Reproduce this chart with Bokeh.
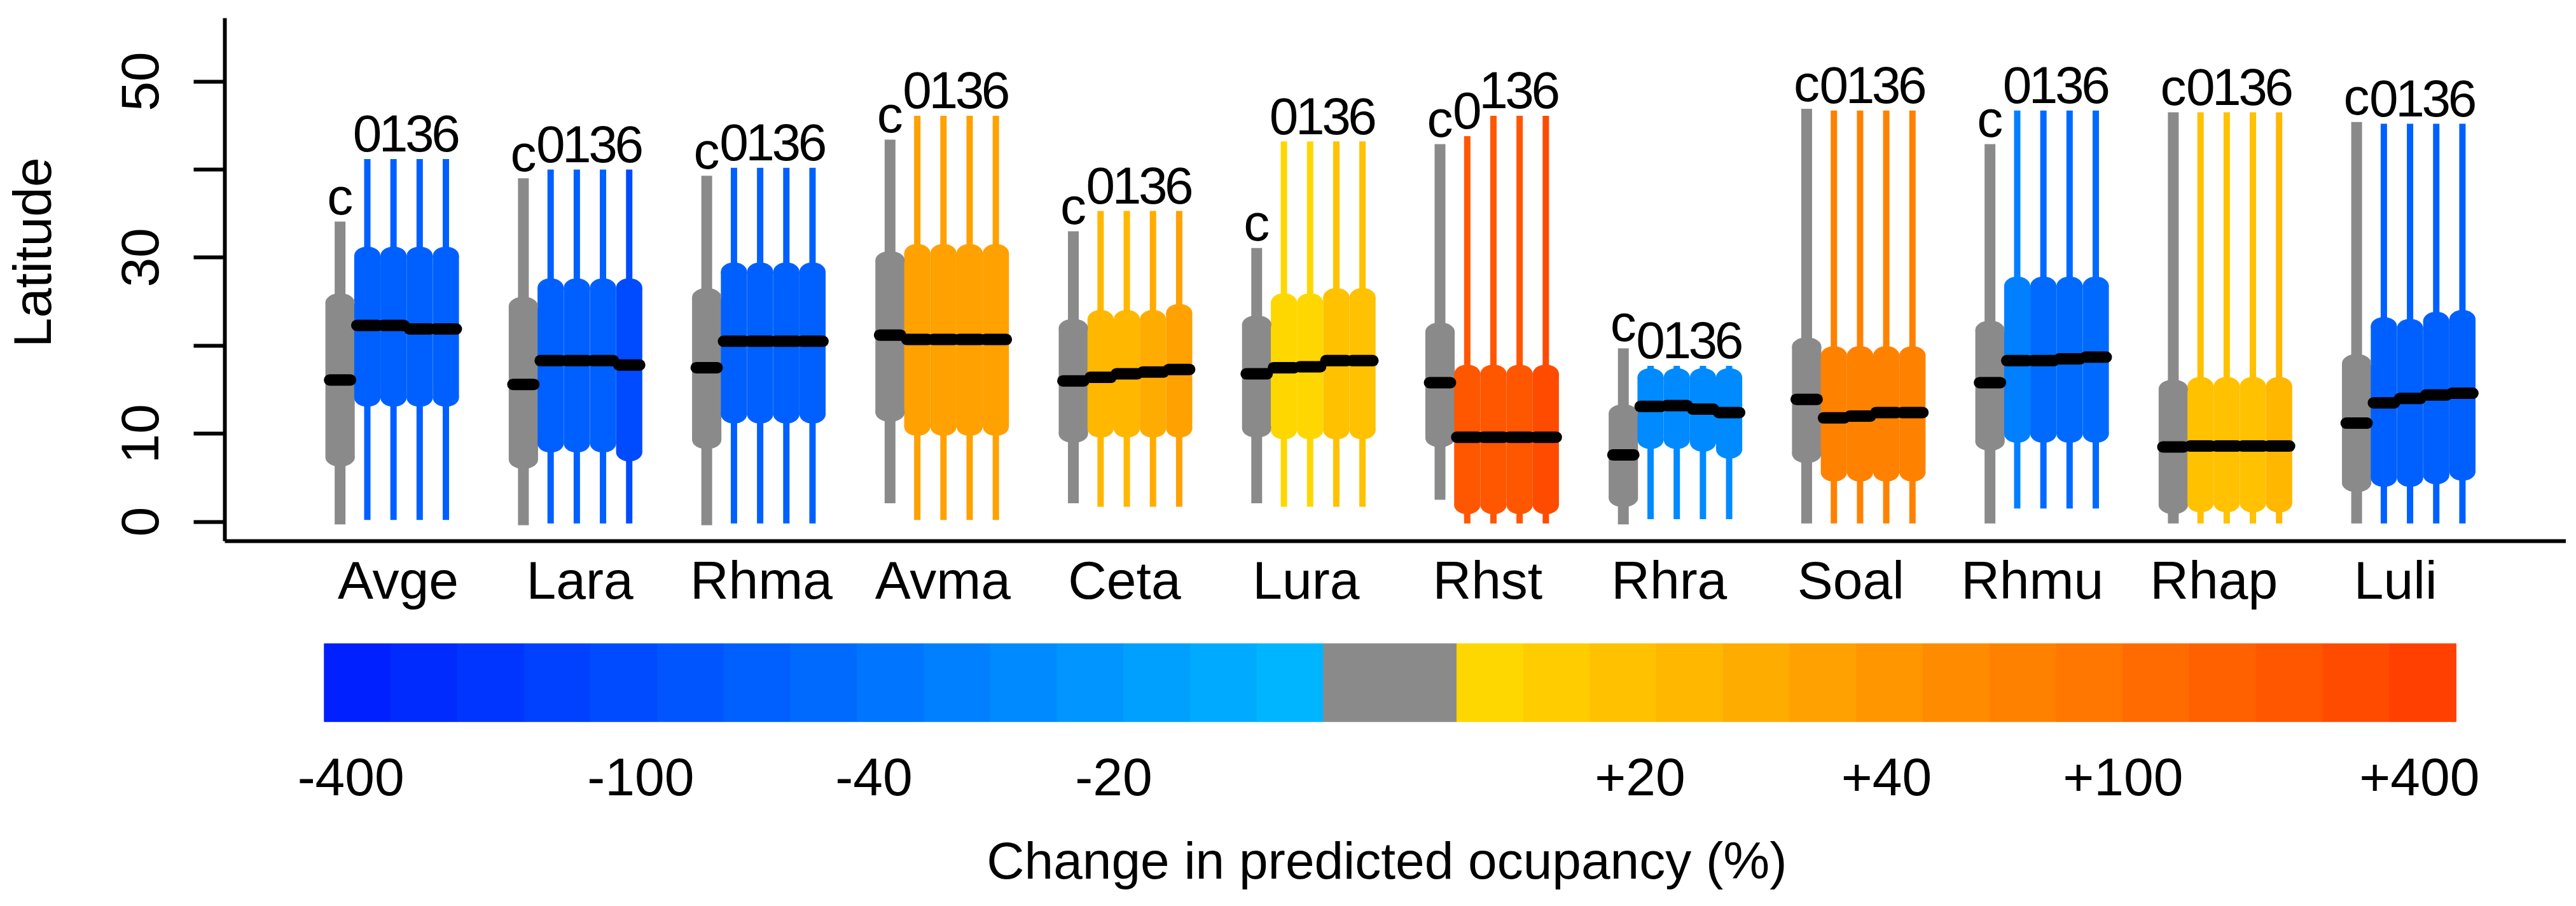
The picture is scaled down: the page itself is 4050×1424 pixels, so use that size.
import math
from bokeh.plotting import figure
from bokeh.models import Range1d, FixedTicker, ColumnDataSource
from bokeh.layouts import column, row
from bokeh.embed import file_html
from bokeh.resources import INLINE
from bokeh.core.properties import value

# ---------------- data ----------------
species = ["Avge", "Lara", "Rhma", "Avma", "Ceta", "Lura",
           "Rhst", "Rhra", "Soal", "Rhmu", "Rhap", "Luli"]
scenarios = ["c", "0", "1", "3", "6"]

whisker_low = [
    [-0.3, 0.2, 0.2, 0.2, 0.2],
    [-0.4, -0.2, -0.2, -0.2, -0.2],
    [-0.4, -0.2, -0.2, -0.2, -0.2],
    [2.1, 0.2, 0.2, 0.2, 0.2],
    [2.1, 1.7, 1.7, 1.7, 1.7],
    [2.1, 1.7, 1.7, 1.7, 1.7],
    [2.5, -0.2, -0.2, -0.2, -0.2],
    [-0.3, 0.3, 0.3, 0.3, 0.3],
    [-0.2, -0.2, -0.2, -0.2, -0.2],
    [-0.2, 1.5, 1.5, 1.5, 1.5],
    [-0.2, -0.2, -0.2, -0.2, -0.2],
    [-0.2, -0.2, -0.2, -0.2, -0.2],
]
box_low = [
    [7.3, 14.1, 14.1, 14.1, 14.1],
    [7.05, 8.9, 8.9, 8.9, 7.9],
    [9.3, 12.2, 12.2, 12.2, 12.2],
    [12.4, 10.8, 10.8, 10.8, 10.8],
    [10.0, 10.6, 10.6, 10.6, 10.6],
    [10.6, 10.4, 10.4, 10.4, 10.4],
    [9.5, 1.9, 1.9, 1.9, 1.9],
    [2.7, 9.3, 9.3, 9.0, 8.2],
    [7.7, 5.6, 5.6, 5.6, 5.6],
    [9.1, 10.0, 10.0, 10.0, 10.0],
    [1.9, 2.1, 2.1, 2.1, 2.1],
    [4.4, 5.0, 5.0, 5.3, 5.7],
]
medians = [
    [16.1, 22.3, 22.3, 21.9, 21.9],
    [15.6, 18.3, 18.3, 18.3, 17.8],
    [17.5, 20.5, 20.5, 20.5, 20.5],
    [21.2, 20.7, 20.7, 20.7, 20.7],
    [16.0, 16.4, 16.8, 17.0, 17.3],
    [16.8, 17.5, 17.6, 18.3, 18.3],
    [15.8, 9.6, 9.6, 9.6, 9.6],
    [7.6, 13.1, 13.2, 12.8, 12.4],
    [13.9, 11.8, 12.0, 12.4, 12.4],
    [15.8, 18.3, 18.3, 18.5, 18.7],
    [8.5, 8.6, 8.6, 8.6, 8.6],
    [11.2, 13.5, 14.0, 14.4, 14.6],
]
box_high = [
    [24.9, 30.2, 30.2, 30.2, 30.2],
    [24.5, 26.6, 26.6, 26.6, 26.6],
    [25.5, 28.4, 28.4, 28.4, 28.4],
    [29.7, 30.5, 30.5, 30.5, 30.5],
    [22.0, 23.0, 23.0, 23.0, 23.7],
    [22.4, 24.9, 24.9, 25.5, 25.5],
    [21.6, 16.8, 16.8, 16.8, 16.8],
    [12.3, 16.4, 16.4, 16.4, 16.4],
    [19.9, 18.9, 18.9, 18.9, 18.9],
    [21.8, 26.8, 26.8, 26.8, 26.8],
    [15.1, 15.4, 15.4, 15.4, 15.4],
    [18.0, 22.2, 22.0, 22.8, 23.0],
]
whisker_high = [
    [34.1, 41.2, 41.2, 41.2, 41.2],
    [39.0, 40.0, 40.0, 40.0, 40.0],
    [39.3, 40.2, 40.2, 40.2, 40.2],
    [43.4, 46.1, 46.1, 46.1, 46.1],
    [33.0, 35.3, 35.3, 35.3, 35.3],
    [31.1, 43.2, 43.2, 43.2, 43.2],
    [42.9, 43.8, 46.1, 46.1, 46.1],
    [19.7, 17.7, 17.7, 17.7, 17.7],
    [46.9, 46.7, 46.7, 46.7, 46.7],
    [42.9, 46.7, 46.7, 46.7, 46.7],
    [46.5, 46.5, 46.5, 46.5, 46.5],
    [45.4, 45.2, 45.2, 45.2, 45.2],
]
# change-in-occupancy class (index on the 32-step colour scale), None = current ("c")
change_class = [
    [None, 6, 6, 6, 6],
    [None, 6, 6, 6, 4],
    [None, 6, 6, 6, 6],
    [None, 22, 22, 22, 22],
    [None, 20, 20, 21, 22],
    [None, 17, 17, 19, 19],
    [None, 29, 29, 29, 30],
    [None, 10, 10, 10, 10],
    [None, 25, 25, 25, 25],
    [None, 9, 7, 7, 7],
    [None, 19, 19, 19, 20],
    [None, 6, 6, 6, 6],
]

colorbar_tick_pos = [0.4, 4.75, 8.25, 11.85, 19.75, 23.45, 27.0, 31.45]
colorbar_tick_labels = ["-400", "-100", "-40", "-20", "+20", "+40", "+100", "+400"]
colorbar_title = "Change in predicted ocupancy (%)"
y_ticks = [0, 10, 20, 30, 40, 50]
y_tick_labels = ["0", "10", "", "30", "", "50"]
y_title = "Latitude"

# ---------------- styling ----------------
FONT = "Liberation Sans"
GRAY = "#8A8A8A"


def ramp(c0, c1, n):
    out = []
    for k in range(n):
        t = k / (n - 1)
        rgb = [round(a + (b - a) * t) for a, b in zip(c0, c1)]
        out.append("#%02X%02X%02X" % tuple(rgb))
    return out


palette = ramp((0, 32, 255), (0, 181, 255), 15) + [GRAY, GRAY] + ramp((255, 215, 0), (255, 64, 0), 15)

GROUP_STEP = 7.0
LABEL_GAP = 2.9   # distance (y units) from whisker top to label anchor
rows = dict(x=[], wlo=[], whi=[], qlo=[], qhi=[], med=[], color=[], bw=[], ww=[],
            lbl=[], ly=[], x0=[], x1=[], qmid=[], qh=[])
for i, sp in enumerate(species):
    for j, sc in enumerate(scenarios):
        xc = GROUP_STEP * i + (0.0 if j == 0 else j + 0.04)
        rows["x"].append(xc)
        rows["wlo"].append(whisker_low[i][j])
        rows["whi"].append(whisker_high[i][j])
        rows["qlo"].append(box_low[i][j])
        rows["qhi"].append(box_high[i][j])
        rows["qmid"].append((box_low[i][j] + box_high[i][j]) / 2)
        rows["qh"].append(box_high[i][j] - box_low[i][j])
        rows["med"].append(medians[i][j])
        cc = change_class[i][j]
        rows["color"].append(GRAY if cc is None else palette[cc])
        rows["bw"].append(1.12 if j == 0 else 1.0)
        rows["ww"].append(17 if j == 0 else 10)
        rows["lbl"].append(sc)
        rows["ly"].append(whisker_high[i][j] + LABEL_GAP)
        rows["x0"].append(xc - 0.40)
        rows["x1"].append(xc + 0.40)
src = ColumnDataSource(rows)

W = 4034
H1 = 980
W0 = 100          # strip holding the rotated y title

# ---------------- y title strip ----------------
lt = figure(width=W0, height=H1, output_backend="svg", toolbar_location=None,
            x_range=Range1d(0, W0), y_range=Range1d(H1, 0),
            min_border_left=0, min_border_right=0, min_border_top=0, min_border_bottom=0)
lt.axis.visible = False
lt.grid.visible = False
lt.outline_line_color = None
lt.text(x=[50], y=[439], text=[y_title], angle=math.pi / 2,
        text_font=value(FONT), text_font_size="84px", text_align="center",
        text_baseline="alphabetic", text_color="black")

# ---------------- main panel ----------------
p = figure(width=W - W0, height=H1, output_backend="svg", toolbar_location=None,
           x_range=Range1d(-4.40, 85.0), y_range=Range1d(-2.2, 57.2),
           min_border_left=353 - W0, min_border_right=0, min_border_top=28, min_border_bottom=130)
p.outline_line_color = None
p.grid.visible = False
p.background_fill_color = "white"
p.border_fill_color = "white"

p.segment(x0="x", y0="wlo", x1="x", y1="whi", line_width="ww", line_color="color",
          line_cap="butt", source=src)
p.rect(x="x", y="qmid", width="bw", height="qh", fill_color="color", line_color=None, source=src)
p.ellipse(x="x", y="qlo", width="bw", height=2.1, fill_color="color", line_color=None, source=src)
p.ellipse(x="x", y="qhi", width="bw", height=2.1, fill_color="color", line_color=None, source=src)
p.segment(x0="x0", y0="med", x1="x1", y1="med", line_width=18, line_color="black",
          line_cap="round", source=src)
p.text(x="x", y="ly", text="lbl", text_font=value(FONT), text_font_size="82px",
       text_align="center", text_baseline="alphabetic", text_color="black", source=src)

# y axis
p.yaxis.ticker = FixedTicker(ticks=y_ticks)
p.yaxis.major_label_overrides = dict(zip(y_ticks, y_tick_labels))
p.yaxis.major_label_orientation = "vertical"
p.yaxis.major_label_text_font = FONT
p.yaxis.major_label_text_font_size = "84px"
p.yaxis.major_label_text_color = "black"
p.yaxis.major_label_standoff = 55
p.yaxis.major_tick_out = 49
p.yaxis.major_tick_in = 0
p.yaxis.major_tick_line_width = 6
p.yaxis.major_tick_line_color = "black"
p.yaxis.minor_tick_line_color = None
p.yaxis.axis_line_width = 6
p.yaxis.axis_line_color = "black"

# x axis (species names)
label_pos = [round(2.22 + 6.933 * i, 4) for i in range(len(species))]
p.xaxis.ticker = FixedTicker(ticks=label_pos)
p.xaxis.major_label_overrides = dict(zip(label_pos, species))
p.xaxis.major_label_text_font = FONT
p.xaxis.major_label_text_font_size = "84px"
p.xaxis.major_label_text_color = "black"
p.xaxis.major_label_standoff = 14
p.xaxis.major_tick_line_color = None
p.xaxis.major_tick_out = 0
p.xaxis.major_tick_in = 0
p.xaxis.minor_tick_line_color = None
p.xaxis.axis_line_width = 6
p.xaxis.axis_line_color = "black"

# ---------------- colour scale panel ----------------
H2 = 428
STEP_PX = 104.74
CB_LEFT = 509.3
steps = list(range(len(palette)))
cb = figure(width=W, height=H2, output_backend="svg", toolbar_location=None,
            x_range=Range1d(-CB_LEFT / STEP_PX, (W - CB_LEFT) / STEP_PX),
            y_range=Range1d(H2, 0),
            min_border_left=0, min_border_right=0, min_border_top=0, min_border_bottom=0)
cb.outline_line_color = None
cb.grid.visible = False
cb.axis.visible = False
cb.quad(left=steps, right=[s + 1 for s in steps], bottom=153.7, top=31.3,
        fill_color=palette, line_color=palette, line_width=1)
cb.text(x=colorbar_tick_pos, y=[240] * len(colorbar_tick_pos), text=colorbar_tick_labels,
        text_font=value(FONT), text_font_size="84px", text_align="center",
        text_baseline="alphabetic", text_color="black")
cb.text(x=[len(palette) / 2 - 0.05], y=[372], text=[colorbar_title],
        text_font=value(FONT), text_font_size="82px", text_align="center",
        text_baseline="alphabetic", text_color="black")

layout = column(row(lt, p, spacing=0), cb, spacing=0)
open("out.html", "w").write(file_html(layout, INLINE))
